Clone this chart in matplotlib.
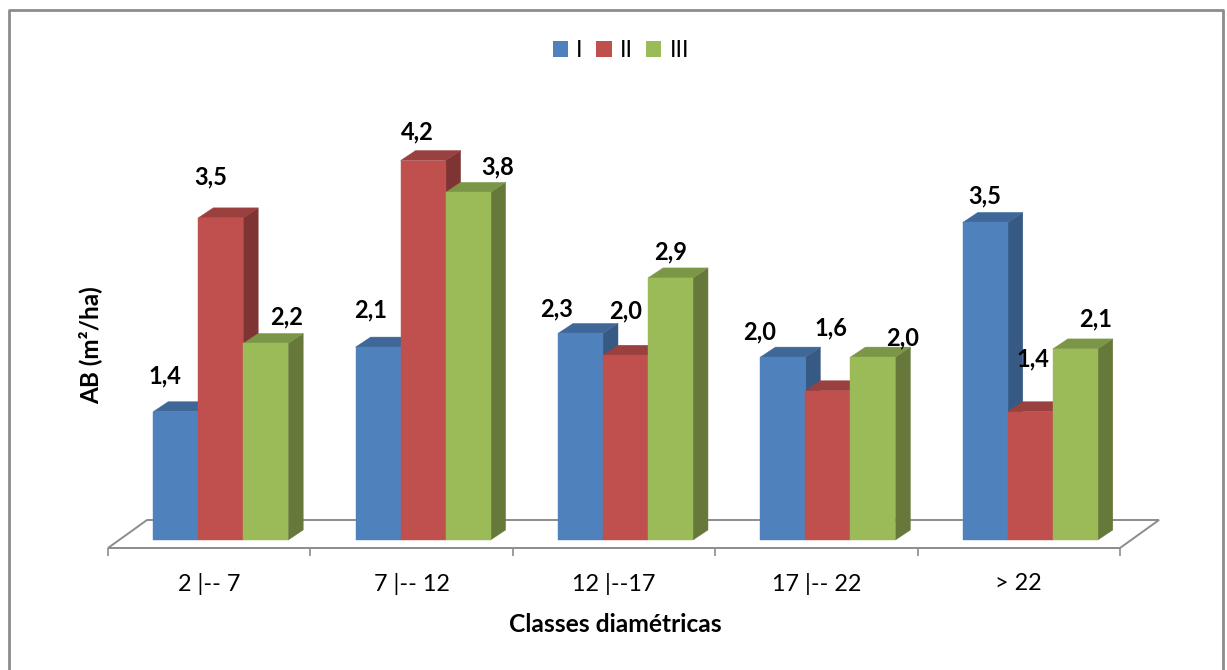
import matplotlib
matplotlib.use("Agg")
import matplotlib.pyplot as plt
from matplotlib.lines import Line2D
from matplotlib.patches import Patch, Polygon

classes = ["2 |-- 7", "7 |-- 12", "12 |--17", "17 |-- 22", "> 22"]
series_names = ["I", "II", "III"]
values_I = [1.41, 2.12, 2.27, 2.01, 3.49]
values_II = [3.54, 4.17, 2.03, 1.64, 1.41]
values_III = [2.16, 3.82, 2.88, 2.01, 2.10]

colors = ["#4F81BD", "#C0504D", "#9BBB59"]
top_colors = ["#3F6797", "#9A403E", "#7C9647"]
side_colors = ["#375A85", "#7D3432", "#66793A"]
grey = "#8C8C8C"

# label offsets from the bar's top-centre, in pixels (right, up)
label_offsets = [
    [(-11, 36), (-7.5, 37), (-24, 25), (-23.5, 25), (-1, 26)],
    [(-9.5, 41), (-6, 29), (0, 44), (3, 63), (3, 53)],
    [(21, 27), (30, 25), (0, 26), (30, 19), (20, 30)],
]

W, H = 1227, 670
plt.rcParams["font.family"] = ["Lato", "DejaVu Sans"]
fig = plt.figure(figsize=(W / 100, H / 100), dpi=100, facecolor="white")

# layout in pixels
ax_left, ax_right, ax_bottom, ax_top = 108, 1120, 548, 40
ax = fig.add_axes([ax_left / W, 1 - ax_bottom / H,
                   (ax_right - ax_left) / W, (ax_bottom - ax_top) / H])
px_per_x = (ax_right - ax_left) / len(classes)
px_per_y = 91.0
ax.set_xlim(-0.5, len(classes) - 0.5)
ax.set_ylim(-8 / px_per_y, (ax_bottom - 8 - ax_top) / px_per_y)
ax.patch.set_alpha(0)

bar_w = 45 / px_per_x
group_shift = 11.5 / px_per_x
dx = 15 / px_per_x
dy = 10 / px_per_y

# floor of the 3D plot
floor_dx = 39 / px_per_x
floor_y0 = ax.get_ylim()[0]
floor_y1 = 20 / px_per_y
x0, x1 = ax.get_xlim()
ax.add_patch(Polygon([(x0, floor_y0), (x1, floor_y0), (x1 + floor_dx, floor_y1 ),
                      (x0 + floor_dx, floor_y1)], closed=True, facecolor="white",
                     edgecolor=grey, linewidth=1.4, clip_on=False, zorder=1))

# bars: drawn left to right so that nearer faces overlap correctly
all_values = [values_I, values_II, values_III]
for g in range(len(classes)):
    for s, vals in enumerate(all_values):
        v = vals[g]
        left = g + group_shift + (s - 1.5) * bar_w
        right = left + bar_w
        z = 2 + g * 4 + s
        ax.add_patch(Polygon([(right, 0), (right + dx, dy), (right + dx, v + dy), (right, v)],
                             closed=True, facecolor=side_colors[s], edgecolor=side_colors[s],
                             linewidth=0.3, clip_on=False, zorder=z))
        ax.add_patch(Polygon([(left, v), (right, v), (right + dx, v + dy), (left + dx, v + dy)],
                             closed=True, facecolor=top_colors[s], edgecolor=top_colors[s],
                             linewidth=0.3, clip_on=False, zorder=z))
        ax.bar(left + bar_w / 2, v, width=bar_w, color=colors[s], edgecolor=colors[s],
               linewidth=0.3, clip_on=False, zorder=z + 0.5)
        ox, oy = label_offsets[s][g]
        ax.annotate(f"{v:.1f}".replace(".", ","), (left + bar_w / 2, v),
                    xytext=(ox * 0.72, oy * 0.72), textcoords="offset points",
                    ha="center", va="center", fontsize=17, fontweight="bold",
                    color="black", zorder=100, annotation_clip=False)

# axes: only the front floor edge and its ticks
for name, sp in ax.spines.items():
    sp.set_visible(False)
ax.set_yticks([])
ax.set_xticks(range(len(classes)), classes, fontsize=16.8, color="black")
ax.tick_params(axis="x", which="major", length=0, pad=18)
ax.set_xticks([i - 0.5 for i in range(len(classes) + 1)], minor=True)
ax.tick_params(axis="x", which="minor", length=5.8, width=1.2, color=grey)
ax.set_xlabel("Classes diamétricas", fontsize=17.7, fontweight="bold", labelpad=13)
ax.xaxis.label.set_x((615 - ax_left) / (ax_right - ax_left))
ax.set_ylabel("AB (m²/ha)", fontsize=17.5, fontweight="bold", va="center")
ax.yaxis.set_label_coords((90 - ax_left) / (ax_right - ax_left), (ax_bottom - 345) / (ax_bottom - ax_top))

# legend
handles = [Patch(facecolor=c, edgecolor="none", label=n) for c, n in zip(colors, series_names)]
fig.legend(handles=handles, loc="center", bbox_to_anchor=(621 / W, 1 - 50.5 / H), ncol=3,
           frameon=False, fontsize=16.5, handlelength=0.66, handleheight=0.66,
           handletextpad=0.35, columnspacing=0.6, borderpad=0, borderaxespad=0)

# outer frame, cut by the bottom edge of the picture
fig.add_artist(Line2D([9 / W, 9 / W, 1223 / W, 1223 / W],
                      [0, 1 - 10 / H, 1 - 10 / H, 0],
                      transform=fig.transFigure, color=grey, linewidth=2.0))

fig.savefig("out.png", dpi=100, facecolor="white")
